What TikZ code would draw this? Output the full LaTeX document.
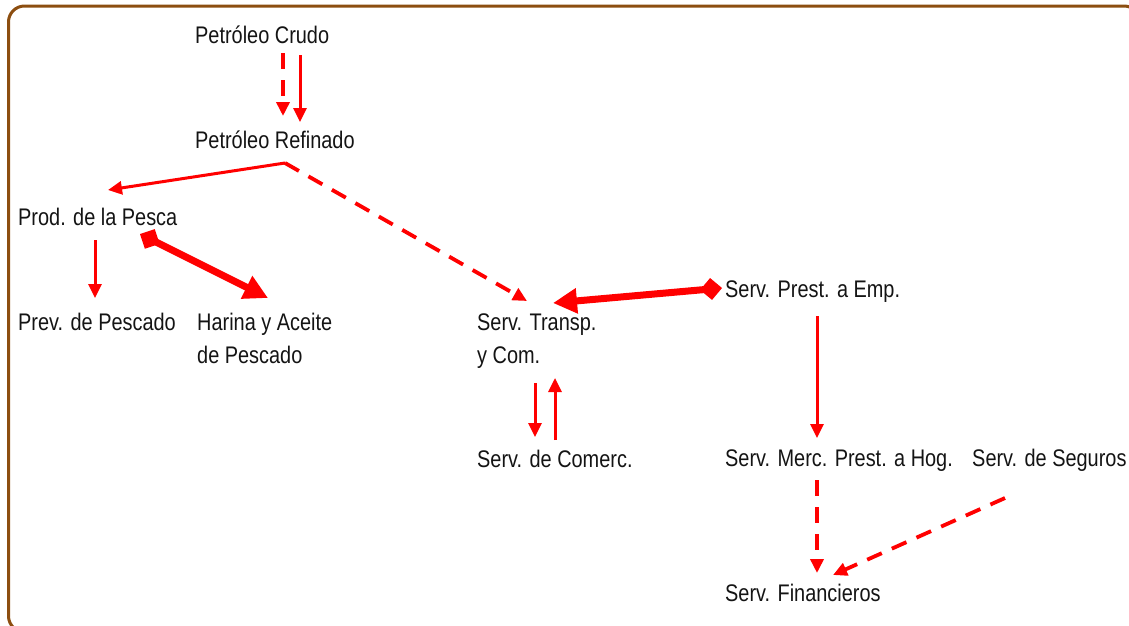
\documentclass[tikz,border=0pt]{standalone}
\usepackage{fontspec}
\setmainfont{Liberation Sans}[FakeStretch=0.83]
\usetikzlibrary{arrows.meta,calc}
\definecolor{framebrown}{RGB}{140,78,16}
\definecolor{arrred}{RGB}{255,0,0}
\definecolor{txt}{RGB}{20,20,20}
\tikzset{
  lbl/.style={anchor=base west, inner sep=0pt, align=left, text=txt,
              font=\fontsize{24}{33}\selectfont},
  flow/.style={draw=arrred, line width=3pt, -{Triangle[length=14pt,width=13pt]}},
  dflow/.style={flow, line width=3.8pt, dash pattern=on 16pt off 11pt},
  bigflow/.style={draw=arrred, line width=7pt,
     {Diamond[length=22pt,width=22pt]}-{Triangle[length=24pt,width=24pt]}},
  framestyle/.style={draw=framebrown, line width=3pt, rounded corners=16pt}
}
\begin{document}
\begin{tikzpicture}[x=1pt,y=-1pt]
\useasboundingbox (0,0) rectangle (1129,625);
\clip (0,0) rectangle (1129,625);
\draw[framestyle] (8.5,6) rectangle (1140,632);

% single-line labels: base = baseline of the line
% two-line labels: base = baseline of the last line
\node[lbl] (crudo)    at (195,43)  {Petróleo Crudo};
\node[lbl] (refinado) at (195,148) {Petróleo Refinado};
\node[lbl] (pesca)    at (18,225)  {Prod. de la Pesca};
\node[lbl] (prev)     at (18,330)  {Prev. de Pescado};
\node[lbl] (harina)   at (197,363) {Harina y Aceite\\de Pescado};
\node[lbl] (transp)   at (477,363) {Serv. Transp.\\y Com.};
\node[lbl] (prest)    at (725,297) {Serv. Prest. a Emp.};
\node[lbl] (comerc)   at (477,467) {Serv. de Comerc.};
\node[lbl] (merc)     at (725,466) {Serv. Merc. Prest. a Hog.};
\node[lbl] (seguros)  at (972,466) {Serv. de Seguros};
\node[lbl] (fin)      at (725,601) {Serv. Financieros};

\coordinate (rf) at ($(refinado.base west)+(90,15)$);

% Crudo -> Refinado
\draw[dflow] ($(crudo.base west)+(88,10)$) -- ($(refinado.base west)+(88,-32)$);
\draw[flow]  ($(crudo.base west)+(105,12)$) -- ($(refinado.base west)+(105,-26)$);
% Refinado -> Pesca / Transp
\draw[flow]  (rf) -- ($(pesca.base west)+(90,-35)$);
\draw[dflow] (rf) -- ($(transp.base west)+(50,-62)$);
% Pesca -> Prev
\draw[flow]  ($(pesca.base west)+(77,15)$) -- ($(prev.base west)+(77,-32)$);
% Pesca <-> Harina
\draw[bigflow] ($(pesca.base west)+(122,9)$) -- ($(harina.base west)+(71,-65)$);
% Prest <-> Transp
\draw[bigflow] ($(prest.base west)+(-3,-9)$) -- ($(transp.base west)+(76,-60)$);
% Transp <-> Comerc
\draw[flow] ($(transp.base west)+(58,20)$) -- ($(comerc.base west)+(58,-30)$);
\draw[flow] ($(comerc.base west)+(78,-27)$) -- ($(transp.base west)+(78,15)$);
% Prest -> Merc
\draw[flow] ($(prest.base west)+(92,19)$) -- ($(merc.base west)+(92,-28)$);
% Merc -> Fin, Seguros -> Fin
\draw[dflow] ($(merc.base west)+(92,14)$) -- ($(fin.base west)+(92,-28)$);
\draw[dflow] ($(seguros.base west)+(33,32)$) -- ($(fin.base west)+(108,-26)$);
\end{tikzpicture}
\end{document}
